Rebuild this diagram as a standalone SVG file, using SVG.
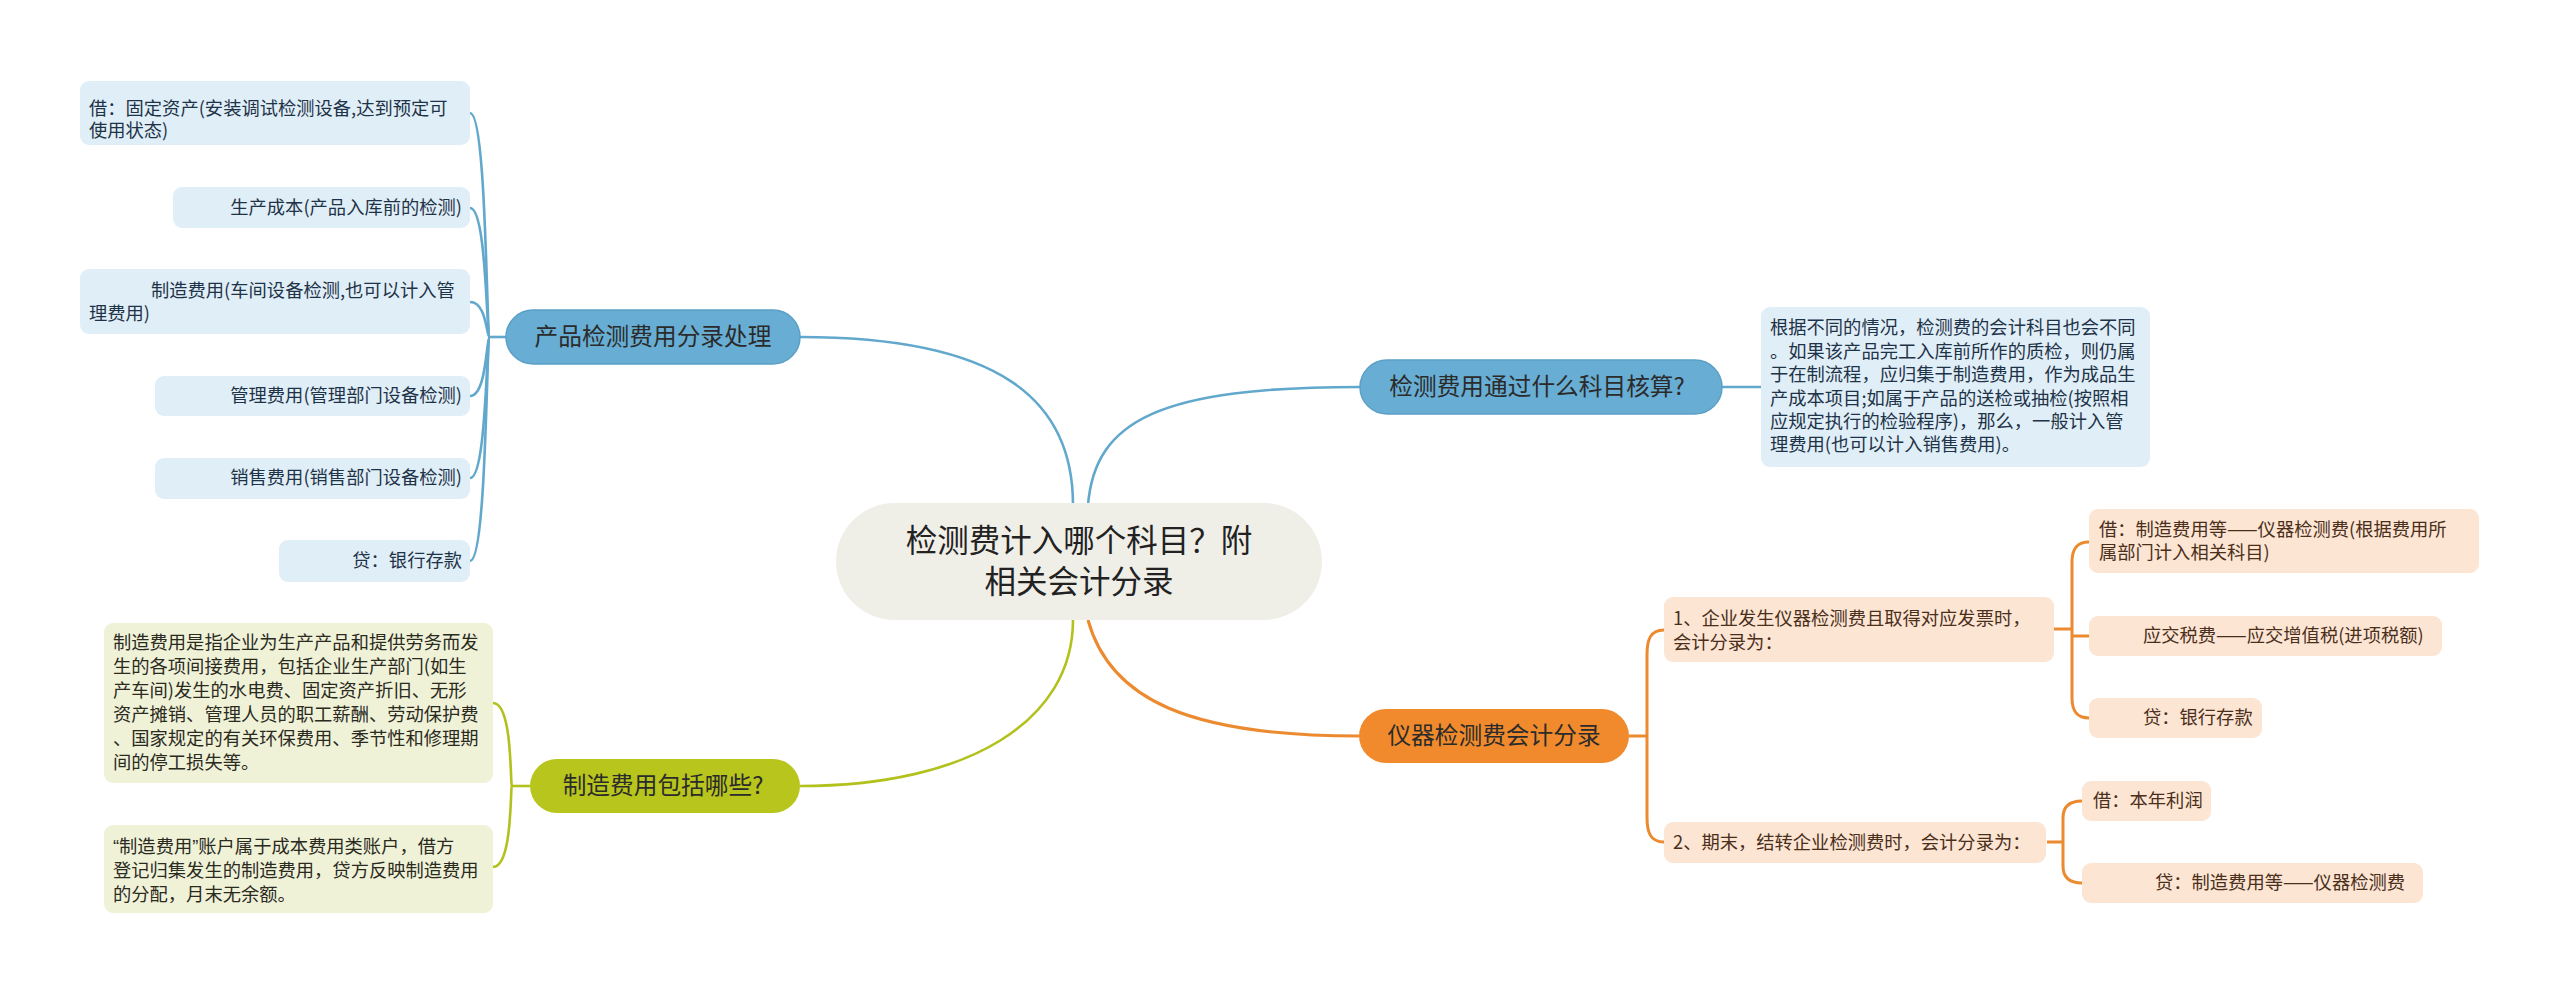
<svg xmlns="http://www.w3.org/2000/svg" width="2560" height="994" viewBox="0 0 2560 994">
<style>
text{font-family:"Noto Sans CJK SC","Noto Sans",sans-serif;}
.leaf{font-size:18.3px;}
.bl rect{fill:#e0eef7;}
.bl text{fill:#1e3348;}
.gl rect{fill:#f0f2d8;}
.gl text{fill:#2a2a1e;}
.ol rect{fill:#fde5d3;}
.ol text{fill:#4a2f1b;}
.sub text{font-size:23.7px;fill:#2b2b2b;text-anchor:middle;}
.cb{fill:none;stroke:#62a8cd;stroke-width:2.6;}
.cg{fill:none;stroke:#b2c11c;stroke-width:2.6;}
.co{fill:none;stroke:#ec8a2f;stroke-width:3;}
.q{font-family:"Liberation Sans",sans-serif;}
</style>
<rect width="2560" height="994" fill="#ffffff"/>

<g id="connectors">
  <path class="cb" d="M800 337 C1000 337 1073 400 1073 505"/>
  <path class="cb" d="M1088 505 C1095 420 1160 387 1360 387"/>
  <path class="cg" d="M800 786 C970 786 1073 720 1073 620"/>
  <path class="co" d="M1088 620 C1110 700 1190 736 1359 736"/>
  <path class="cb" d="M506 337 L490 337"/>
  <path class="cb" d="M490 337 C486 337 487 113 470 113"/>
  <path class="cb" d="M490 337 C486 337 487 208 470 208"/>
  <path class="cb" d="M490 337 C486 337 487 302 470 302"/>
  <path class="cb" d="M490 337 C486 337 487 396 470 396"/>
  <path class="cb" d="M490 337 C486 337 487 478 470 478"/>
  <path class="cb" d="M490 337 C486 337 487 561 470 561"/>
  <path class="cb" d="M1722 387 L1761 387"/>
  <path class="cg" d="M530 786 L512 786"/>
  <path class="cg" d="M512 786 C510 786 513 703 493 703"/>
  <path class="cg" d="M512 786 C510 786 513 867 493 867"/>
  <path class="co" d="M1629 736 L1647 736"/>
  <path class="co" d="M1664 630 C1650 630 1647 640 1647 655 L1647 817 C1647 832 1650 842 1664 842"/>
  <path class="co" d="M2054 629 L2072 629"/>
  <path class="co" d="M2089 542 C2076 542 2072 550 2072 562 L2072 698 C2072 710 2076 718 2089 718"/>
  <path class="co" d="M2072 636 L2089 636"/>
  <path class="co" d="M2047 842 L2063 842"/>
  <path class="co" d="M2082 801 C2068 801 2063 808 2063 818 L2063 866 C2063 876 2068 883 2082 883"/>
</g>

<g id="main">
  <rect x="836" y="503" width="486" height="117" rx="58.5" fill="#efeee7"/>
  <text font-size="31.5" fill="#222" text-anchor="middle"><tspan x="1079" y="552">检测费计入哪个科目？附</tspan><tspan x="1079" y="593">相关会计分录</tspan></text>
</g>

<g id="b-product" class="sub">
  <rect x="506" y="310" width="294" height="54" rx="27" fill="#68aed4" stroke="#5b9fc6" stroke-width="1.5"/>
  <text x="653" y="345.3">产品检测费用分录处理</text>
</g>
<g id="b-subject" class="sub">
  <rect x="1360" y="360" width="362" height="54" rx="27" fill="#68aed4" stroke="#5b9fc6" stroke-width="1.5"/>
  <text x="1537" y="395.3">检测费用通过什么科目核算?</text>
</g>
<g id="b-record" class="sub">
  <rect x="1359" y="709" width="270" height="54" rx="27" fill="#f08a2c"/>
  <text x="1494" y="744.3">仪器检测费会计分录</text>
</g>
<g id="b-mfg" class="sub">
  <rect x="530" y="759" width="270" height="54" rx="27" fill="#b8c51c"/>
  <text x="663" y="794.3">制造费用包括哪些?</text>
</g>

<g id="l-b1" class="bl leaf">
  <rect x="80" y="81" width="390" height="64" rx="9"/>
  <text x="89" y="115.4">借：固定资产(安装调试检测设备,达到预定可</text>
  <text x="89" y="137.4">使用状态)</text>
</g>
<g id="l-b2" class="bl leaf">
  <rect x="173" y="187" width="297" height="41" rx="9"/>
  <text x="462" y="214.4" text-anchor="end">生产成本(产品入库前的检测)</text>
</g>
<g id="l-b3" class="bl leaf">
  <rect x="80" y="269" width="390" height="65" rx="9"/>
  <text x="151" y="297.4">制造费用(车间设备检测,也可以计入管</text>
  <text x="89" y="320.4">理费用)</text>
</g>
<g id="l-b4" class="bl leaf">
  <rect x="155" y="376" width="315" height="40" rx="9"/>
  <text x="462" y="402.4" text-anchor="end">管理费用(管理部门设备检测)</text>
</g>
<g id="l-b5" class="bl leaf">
  <rect x="155" y="458" width="315" height="41" rx="9"/>
  <text x="462" y="484.4" text-anchor="end">销售费用(销售部门设备检测)</text>
</g>
<g id="l-b6" class="bl leaf">
  <rect x="279" y="540" width="191" height="42" rx="9"/>
  <text x="462" y="567.4" text-anchor="end">贷：银行存款</text>
</g>

<g id="l-right" class="bl leaf">
  <rect x="1761" y="307" width="389" height="160" rx="9"/>
  <text x="1770" y="334.4">根据不同的情况，检测费的会计科目也会不同</text>
  <text x="1770" y="357.8">。如果该产品完工入库前所作的质检，则仍属</text>
  <text x="1770" y="381.2">于在制流程，应归集于制造费用，作为成品生</text>
  <text x="1770" y="404.6">产成本项目;如属于产品的送检或抽检(按照相</text>
  <text x="1770" y="428">应规定执行的检验程序)，那么，一般计入管</text>
  <text x="1770" y="451.4">理费用(也可以计入销售费用)。</text>
</g>

<g id="l-g1" class="gl leaf">
  <rect x="104" y="623" width="389" height="160" rx="9"/>
  <text x="113" y="649.4">制造费用是指企业为生产产品和提供劳务而发</text>
  <text x="113" y="673.4">生的各项间接费用，包括企业生产部门(如生</text>
  <text x="113" y="697.4">产车间)发生的水电费、固定资产折旧、无形</text>
  <text x="113" y="721.4">资产摊销、管理人员的职工薪酬、劳动保护费</text>
  <text x="113" y="745.4">、国家规定的有关环保费用、季节性和修理期</text>
  <text x="113" y="769.4">间的停工损失等。</text>
</g>
<g id="l-g2" class="gl leaf">
  <rect x="104" y="825" width="389" height="88" rx="9"/>
  <text x="113" y="853.4"><tspan class="q">“</tspan>制造费用<tspan class="q">”</tspan>账户属于成本费用类账户，借方</text>
  <text x="113" y="877.4">登记归集发生的制造费用，贷方反映制造费用</text>
  <text x="113" y="901.4">的分配，月末无余额。</text>
</g>

<g id="l-o1" class="ol leaf">
  <rect x="1664" y="597" width="390" height="65" rx="9"/>
  <text x="1673" y="625.4">1、企业发生仪器检测费且取得对应发票时，</text>
  <text x="1673" y="649.4">会计分录为：</text>
</g>
<g id="l-o2" class="ol leaf">
  <rect x="1664" y="822" width="382" height="41" rx="9"/>
  <text x="1673" y="849.4">2、期末，结转企业检测费时，会计分录为：</text>
</g>
<g id="l-o1a" class="ol leaf">
  <rect x="2089" y="509" width="390" height="64" rx="9"/>
  <text x="2099" y="536.4">借：制造费用等——仪器检测费(根据费用所</text>
  <text x="2099" y="559.4">属部门计入相关科目)</text>
</g>
<g id="l-o1b" class="ol leaf">
  <rect x="2089" y="616" width="353" height="40" rx="9"/>
  <text x="2143" y="642.4">应交税费——应交增值税(进项税额)</text>
</g>
<g id="l-o1c" class="ol leaf">
  <rect x="2089" y="698" width="173" height="40" rx="9"/>
  <text x="2143" y="724.4">贷：银行存款</text>
</g>
<g id="l-o2a" class="ol leaf">
  <rect x="2082" y="781" width="129" height="40" rx="9"/>
  <text x="2093" y="807.4">借：本年利润</text>
</g>
<g id="l-o2b" class="ol leaf">
  <rect x="2082" y="863" width="341" height="40" rx="9"/>
  <text x="2155" y="889.4">贷：制造费用等——仪器检测费</text>
</g>
</svg>
